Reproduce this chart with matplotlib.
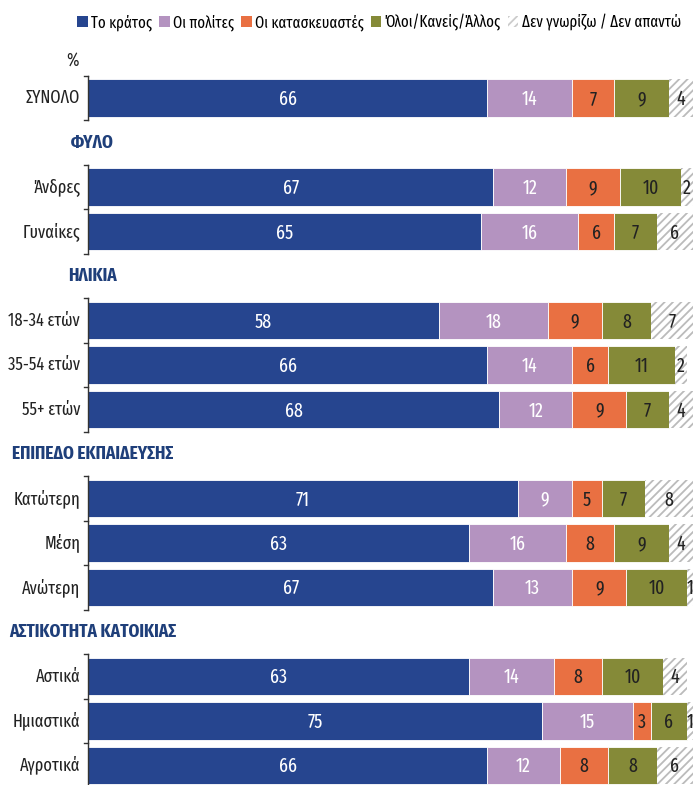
import matplotlib
matplotlib.use("Agg")
import matplotlib.pyplot as plt
from matplotlib.patches import Patch
from matplotlib import font_manager

names = {f.name for f in font_manager.fontManager.ttflist}
fams = [f for f in ['Fira Sans Extra Condensed', 'Roboto Condensed', 'Liberation Sans'] if f in names]
plt.rcParams['font.family'] = fams + ['DejaVu Sans']
plt.rcParams['hatch.linewidth'] = 1.3

# ---- data ----
rows = ["ΣΥΝΟΛΟ", "ΦΥΛΟ", "Άνδρες", "Γυναίκες", "ΗΛΙΚΙΑ", "18-34 ετών", "35-54 ετών",
        "55+ ετών", "ΕΠΙΠΕΔΟ ΕΚΠΑΙΔΕΥΣΗΣ", "Κατώτερη", "Μέση", "Ανώτερη",
        "ΑΣΤΙΚΟΤΗΤΑ ΚΑΤΟΙΚΙΑΣ", "Αστικά", "Ημιαστικά", "Αγροτικά"]
headers = ["ΦΥΛΟ", "ΗΛΙΚΙΑ", "ΕΠΙΠΕΔΟ ΕΚΠΑΙΔΕΥΣΗΣ", "ΑΣΤΙΚΟΤΗΤΑ ΚΑΤΟΙΚΙΑΣ"]
series_names = ["Το κράτος", "Οι πολίτες", "Οι κατασκευαστές", "Όλοι/Κανείς/Άλλος",
                "Δεν γνωρίζω / Δεν απαντώ"]
to_kratos = {"ΣΥΝΟΛΟ": 66, "Άνδρες": 67, "Γυναίκες": 65, "18-34 ετών": 58, "35-54 ετών": 66,
             "55+ ετών": 68, "Κατώτερη": 71, "Μέση": 63, "Ανώτερη": 67, "Αστικά": 63,
             "Ημιαστικά": 75, "Αγροτικά": 66}
oi_polites = {"ΣΥΝΟΛΟ": 14, "Άνδρες": 12, "Γυναίκες": 16, "18-34 ετών": 18, "35-54 ετών": 14,
              "55+ ετών": 12, "Κατώτερη": 9, "Μέση": 16, "Ανώτερη": 13, "Αστικά": 14,
              "Ημιαστικά": 15, "Αγροτικά": 12}
kataskevastes = {"ΣΥΝΟΛΟ": 7, "Άνδρες": 9, "Γυναίκες": 6, "18-34 ετών": 9, "35-54 ετών": 6,
                 "55+ ετών": 9, "Κατώτερη": 5, "Μέση": 8, "Ανώτερη": 9, "Αστικά": 8,
                 "Ημιαστικά": 3, "Αγροτικά": 8}
oloi = {"ΣΥΝΟΛΟ": 9, "Άνδρες": 10, "Γυναίκες": 7, "18-34 ετών": 8, "35-54 ετών": 11,
        "55+ ετών": 7, "Κατώτερη": 7, "Μέση": 9, "Ανώτερη": 10, "Αστικά": 10,
        "Ημιαστικά": 6, "Αγροτικά": 8}
dk = {"ΣΥΝΟΛΟ": 4, "Άνδρες": 2, "Γυναίκες": 6, "18-34 ετών": 7, "35-54 ετών": 2,
      "55+ ετών": 4, "Κατώτερη": 8, "Μέση": 4, "Ανώτερη": 1, "Αστικά": 4,
      "Ημιαστικά": 1, "Αγροτικά": 6}
series = [to_kratos, oi_polites, kataskevastes, oloi, dk]

colors = ["#26458F", "#B493C0", "#E97042", "#858A38", "white"]
txtcol = ["white", "white", "#222222", "#222222", "#222222"]
hdr_col = "#1F3F7A"

fig = plt.figure(figsize=(6.94, 7.85), dpi=100)
ax = fig.add_axes([88/694, 0.0, 605/694, 1 - 75.75/785])
ax.set_xlim(0, 100)
ax.set_ylim(15.44, -0.5)
ax.axis('off')

bar_rows = [i for i, r in enumerate(rows) if r not in headers]
for i in bar_rows:
    r = rows[i]
    left = 0
    for k, s in enumerate(series):
        v = s[r]
        if k < 4:
            ax.barh(i, v, left=left, height=0.85, color=colors[k], edgecolor='white', linewidth=0.6)
        else:
            ax.barh(i, v, left=left, height=0.85, color='white', edgecolor='#BBBBBB',
                    hatch='////', linewidth=0)
        ax.text(left + v / 2, i + 0.03, str(v), ha='center', va='center', fontsize=14,
                color=txtcol[k])
        left += v
    ax.text(-1.3, i, r, ha='right', va='center', fontsize=12.8, color='#222222')

# spine segments and ticks per group
groups = [[0], [2, 3], [5, 6, 7], [9, 10, 11], [13, 14, 15]]
for g in groups:
    ax.plot([0, 0], [g[0] - 0.5, g[-1] + 0.5], color='#333333', lw=1, clip_on=False)
    for b in range(g[0], g[-1] + 2):
        ax.plot([-0.7, 0], [b - 0.5, b - 0.5], color='#333333', lw=1, clip_on=False)

for i, r in enumerate(rows):
    if r in headers:
        ax.text(0.7, i, r, ha='center', va='center', fontsize=13.5, fontweight='bold',
                color=hdr_col)

ax.text(-2.6, -0.65, "%", ha='center', va='bottom', fontsize=13, color='#222222')

handles = [Patch(facecolor=colors[k], edgecolor='none') for k in range(4)]
handles.append(Patch(facecolor='white', edgecolor='#CCCCCC', hatch='////', linewidth=0))
fig.legend(handles, series_names, loc='upper right', bbox_to_anchor=(0.997, 0.997), ncol=5,
           frameon=False, fontsize=11.6, handlelength=0.65, handleheight=0.65,
           handletextpad=0.2, columnspacing=0.45, borderaxespad=0.3)

fig.savefig("out.png", dpi=100)
